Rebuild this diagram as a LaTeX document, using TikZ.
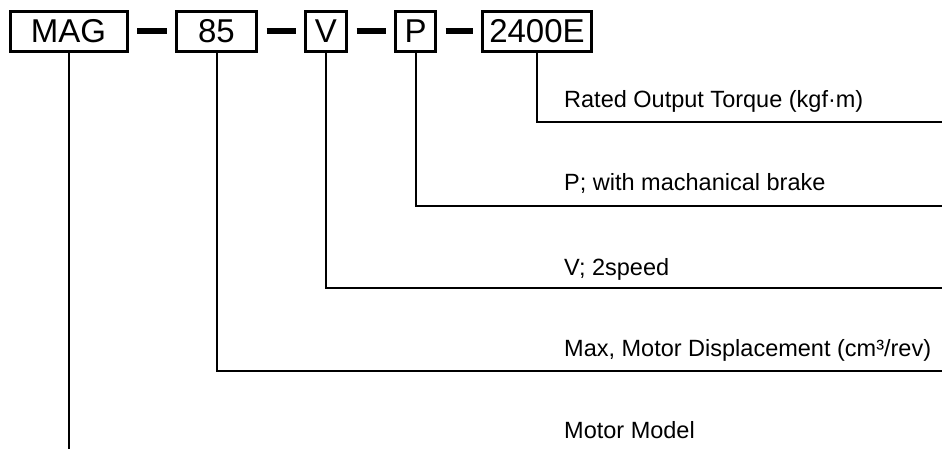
\documentclass[tikz,border=0pt]{standalone}
\usepackage{fontspec}
\setmainfont{Liberation Sans}
\begin{document}
\begin{tikzpicture}[x=1pt, y=-1pt,
  codebox/.style={draw, line width=3pt, minimum height=40pt, inner sep=0pt, font=\fontsize{33}{33}\selectfont},
  dashline/.style={line width=6pt, shorten <=8.5pt, shorten >=8.5pt},
  leader/.style={line width=2pt},
  desc/.style={anchor=base west, inner sep=0pt, font=\fontsize{23.5}{28}\selectfont}]
  \useasboundingbox (0,0) rectangle (942,449);
  % code boxes
  \node[codebox, minimum width=117pt] (mag) at (68.5,31.5) {MAG};
  \node[codebox, minimum width=80pt] (n85) at (216.5,31.5) {85};
  \node[codebox, minimum width=41pt] (v) at (326,31.5) {V};
  \node[codebox, minimum width=40pt] (p) at (415.5,31.5) {P};
  \node[codebox, minimum width=109pt] (n2400) at (537,31.5) {2400E};
  \draw[dashline] (mag.east) -- (n85.west);
  \draw[dashline] (n85.east) -- (v.west);
  \draw[dashline] (v.east) -- (p.west);
  \draw[dashline] (p.east) -- (n2400.west);
  % right ends of the leaders
  \coordinate (e2400) at (942,122.5);
  \coordinate (ep) at (942,206);
  \coordinate (ev) at (942,288);
  \coordinate (e85) at (942,371);
  \coordinate (emag) at (68.5,449);
  \draw[leader] (n2400.south) |- (e2400);
  \draw[leader] (p.south) |- (ep);
  \draw[leader] (v.south) |- (ev);
  \draw[leader] (n85.south) |- (e85);
  \draw[leader] (mag.south) -- (emag);
  % descriptions
  \node[desc] (torque) at (564,108) {Rated Output Torque (kgf·m)};
  \node[desc] (brake) at (564,191) {P; with machanical brake};
  \node[desc] (speed) at (564,275) {V; 2speed};
  \node[desc] (displ) at (564,356) {Max, Motor Displacement (cm³/rev)};
  \node[desc] (model) at (564,438) {Motor Model};
\end{tikzpicture}
\end{document}
